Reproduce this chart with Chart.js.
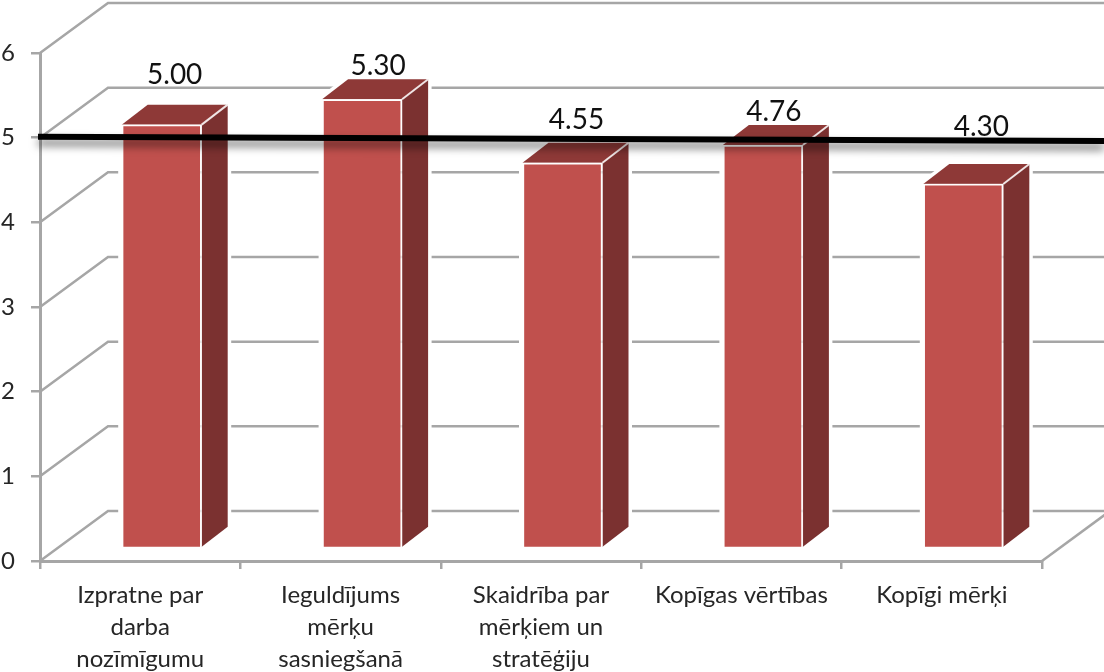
<!DOCTYPE html>
<html>
<head>
    <meta charset="UTF-8">
    <title>Vērtējumi</title>
    <script src="https://cdn.jsdelivr.net/npm/chart.js"></script>
    <style>
        html, body { margin: 0; padding: 0; background: #fff; }
        canvas { display: block; }
    </style>
</head>
<body>
<canvas id="chart" width="1104" height="672"></canvas>
<script>
    const categories = [
        ['Izpratne par', 'darba', 'nozīmīgumu'],
        ['Ieguldījums', 'mērķu', 'sasniegšanā'],
        ['Skaidrība par', 'mērķiem un', 'stratēģiju'],
        'Kopīgas vērtības',
        'Kopīgi mērķi'
    ];
    const scores = [5.00, 5.30, 4.55, 4.76, 4.30];
    const averageLevel = [5.01, 4.96];

    // fake 3D look, in pixels
    const WALL = { dx: 68, dy: -50 };
    const BAR_SHIFT = { dx: 21.5, dy: -13 };
    const BAR_DEPTH = { dx: 26, dy: -20 };
    const GRID = '#a6a6a6';
    // the value labels were placed by hand in the original
    const labelNudge = [[0, -30], [3, -13], [1, -23], [-2, -13], [5, -37]];

    const wallPlugin = {
        id: 'wall',
        beforeDatasetsDraw(chart) {
            const { ctx, chartArea, scales } = chart;
            ctx.save();
            ctx.strokeStyle = GRID;
            ctx.lineWidth = 2.5;
            scales.y.ticks.forEach(t => {
                const y = scales.y.getPixelForValue(t.value);
                ctx.beginPath();
                ctx.moveTo(chartArea.left, y);
                ctx.lineTo(chartArea.left + WALL.dx, y + WALL.dy);
                ctx.lineTo(chart.width, y + WALL.dy);
                ctx.stroke();
            });
            // floor edge on the right
            ctx.beginPath();
            ctx.moveTo(chartArea.right, chartArea.bottom);
            ctx.lineTo(chartArea.right + WALL.dx, chartArea.bottom + WALL.dy);
            ctx.stroke();
            ctx.restore();
        }
    };

    function blockPath(ctx, b) {
        const d = BAR_DEPTH;
        const l = b.x - b.width / 2, r = b.x + b.width / 2;
        ctx.beginPath();
        ctx.moveTo(l, b.base);
        ctx.lineTo(l, b.y);
        ctx.lineTo(l + d.dx, b.y + d.dy);
        ctx.lineTo(r + d.dx, b.y + d.dy);
        ctx.lineTo(r + d.dx, b.base + d.dy);
        ctx.lineTo(r, b.base);
        ctx.closePath();
    }

    const blockPlugin = {
        id: 'block',
        beforeDatasetDraw(chart, args) {
            const ctx = chart.ctx;
            ctx.save();
            ctx.translate(BAR_SHIFT.dx, BAR_SHIFT.dy);
            const d = BAR_DEPTH;
            args.meta.data.forEach(b => {
                const r = b.x + b.width / 2, l = b.x - b.width / 2;
                // white gap against the wall lines
                blockPath(ctx, b);
                ctx.strokeStyle = '#fff';
                ctx.lineWidth = 7;
                ctx.stroke();
                // top face
                ctx.beginPath();
                ctx.moveTo(l, b.y);
                ctx.lineTo(l + d.dx, b.y + d.dy);
                ctx.lineTo(r + d.dx, b.y + d.dy);
                ctx.lineTo(r, b.y);
                ctx.closePath();
                ctx.fillStyle = '#8e3937';
                ctx.fill();
                // side face
                ctx.beginPath();
                ctx.moveTo(r, b.y);
                ctx.lineTo(r + d.dx, b.y + d.dy);
                ctx.lineTo(r + d.dx, b.base + d.dy);
                ctx.lineTo(r, b.base);
                ctx.closePath();
                ctx.fillStyle = '#7b3130';
                ctx.fill();
                ctx.beginPath();
                ctx.moveTo(r, b.y);
                ctx.lineTo(r + d.dx, b.y + d.dy);
                ctx.strokeStyle = 'rgba(255,255,255,0.85)';
                ctx.lineWidth = 2;
                ctx.stroke();
            });
        },
        afterDatasetDraw(chart) {
            chart.ctx.restore();
        }
    };

    const overlayPlugin = {
        id: 'overlay',
        afterDatasetsDraw(chart) {
            const { ctx, chartArea, scales } = chart;
            // black reference line with its soft shadow
            ctx.save();
            ctx.shadowColor = 'rgba(0,0,0,0.55)';
            ctx.shadowBlur = 9;
            ctx.shadowOffsetY = 6;
            ctx.strokeStyle = '#000';
            ctx.lineWidth = 6;
            ctx.beginPath();
            ctx.moveTo(chartArea.left - 2, scales.y.getPixelForValue(averageLevel[0]));
            ctx.lineTo(chart.width, scales.y.getPixelForValue(averageLevel[1]));
            ctx.stroke();
            ctx.restore();

            const bars = chart.getDatasetMeta(0).data;
            ctx.save();
            ctx.font = '28px Lato';
            ctx.fillStyle = '#111';
            ctx.textAlign = 'center';
            ctx.textBaseline = 'middle';
            bars.forEach((b, i) => {
                const x = b.x + BAR_SHIFT.dx + BAR_DEPTH.dx / 2 + labelNudge[i][0];
                const y = b.y + BAR_SHIFT.dy + BAR_DEPTH.dy + labelNudge[i][1];
                ctx.fillText(scores[i].toFixed(2), x, y);
            });
            ctx.restore();
        }
    };

    new Chart(document.getElementById('chart'), {
        type: 'bar',
        data: {
            labels: categories,
            datasets: [{
                data: scores,
                backgroundColor: '#c0504d',
                borderColor: 'rgba(255,255,255,0.75)',
                borderWidth: 2,
                barThickness: 80
            }]
        },
        options: {
            responsive: false,
            animation: false,
            layout: { padding: { top: 53, right: 62 } },
            plugins: {
                legend: { display: false },
                tooltip: { enabled: false }
            },
            scales: {
                x: {
                    grid: { drawOnChartArea: false, color: GRID, lineWidth: 2.5, tickLength: 8 },
                    border: { color: GRID, width: 3 },
                    ticks: {
                        autoSkip: false,
                        maxRotation: 0,
                        padding: 10,
                        color: '#262626',
                        font: { family: 'Lato', size: 24, lineHeight: 1.33 }
                    },
                    afterFit(scale) { scale.height = 111; }
                },
                y: {
                    min: 0,
                    max: 6,
                    grid: { drawOnChartArea: false, color: GRID, lineWidth: 2.5, tickLength: 9 },
                    border: { color: GRID, width: 3 },
                    ticks: {
                        stepSize: 1,
                        padding: 16,
                        color: '#262626',
                        font: { family: 'Lato', size: 24 }
                    },
                    afterFit(scale) { scale.width = 40; }
                }
            }
        },
        plugins: [wallPlugin, blockPlugin, overlayPlugin]
    });
</script>
</body>
</html>
